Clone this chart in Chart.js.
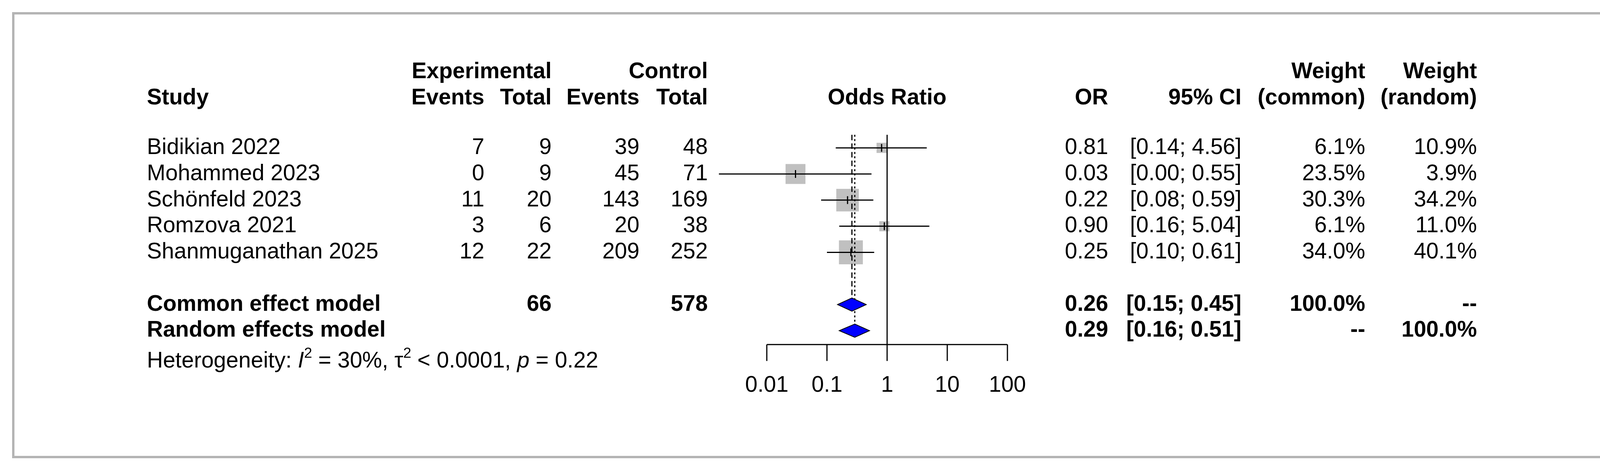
<!DOCTYPE html>
<html>
<head>
<meta charset="utf-8">
<script src="https://cdn.jsdelivr.net/npm/chart.js@4"></script>
<style>
  body { margin: 0; background: #fff; }
  #wrap { position: relative; width: 4139px; height: 1197px; }
  #frame { position: absolute; left: 31px; top: 31px; width: 4076px; height: 1129px; border: 6px solid #b4b4b4; }
</style>
</head>
<body>
<div id="wrap">
  <div id="frame"></div>
  <canvas id="forest" width="4139" height="1197" style="position:absolute;left:0;top:0"></canvas>
</div>
<script>
// DATA
const studies = ['Bidikian 2022', 'Mohammed 2023', 'Schönfeld 2023', 'Romzova 2021', 'Shanmuganathan 2025'];
const expEvents = [7, 0, 11, 3, 12];
const expTotal = [9, 9, 20, 6, 22];
const ctrlEvents = [39, 45, 143, 20, 209];
const ctrlTotal = [48, 71, 169, 38, 252];
const oddsRatio = [0.81, 0.03, 0.22, 0.90, 0.25];
const ciLow = [0.14, 0.0016, 0.08, 0.16, 0.10];
const ciHigh = [4.56, 0.55, 0.59, 5.04, 0.61];
const weightCommon = [6.1, 23.5, 30.3, 6.1, 34.0];
const weightRandom = [10.9, 3.9, 34.2, 11.0, 40.1];

const models = ['Common effect model', 'Random effects model'];
const modelOR = [0.26, 0.29];
const modelLow = [0.15, 0.16];
const modelHigh = [0.45, 0.51];
const modelWCommon = ['100.0%', '--'];
const modelWRandom = ['--', '100.0%'];
const modelExpTotal = [66, null];
const modelCtrlTotal = [578, null];

const xTicks = [0.01, 0.1, 1, 10, 100];

// row positions (row index units)
const studyRows = [1, 2, 3, 4, 5];
const modelRows = [7, 8];

const FONT = '"Liberation Sans", Arial, sans-serif';
const FS = 57;

const f2 = v => v.toFixed(2);
const ciText = (lo, hi) => '[' + f2(lo) + '; ' + f2(hi) + ']';

const forestPlugin = {
  id: 'forest',
  afterDatasetsDraw(chart) {
    const ctx = chart.ctx;
    const x = chart.scales.x, y = chart.scales.y;
    ctx.save();
    ctx.strokeStyle = '#000';
    ctx.lineWidth = 3;

    // line of no effect
    ctx.beginPath();
    ctx.moveTo(x.getPixelForValue(1), y.getPixelForValue(0.5));
    ctx.lineTo(x.getPixelForValue(1), y.getPixelForValue(8.53));
    ctx.stroke();

    // common (dashed) and random (dotted) estimate lines
    ctx.setLineDash([14, 8]);
    ctx.beginPath();
    ctx.moveTo(x.getPixelForValue(modelOR[0]), y.getPixelForValue(0.5));
    ctx.lineTo(x.getPixelForValue(modelOR[0]), y.getPixelForValue(modelRows[0] - 0.2));
    ctx.stroke();
    ctx.setLineDash([5, 6]);
    ctx.beginPath();
    ctx.moveTo(x.getPixelForValue(modelOR[1]), y.getPixelForValue(0.5));
    ctx.lineTo(x.getPixelForValue(modelOR[1]), y.getPixelForValue(modelRows[1] - 0.2));
    ctx.stroke();
    ctx.setLineDash([]);

    // confidence intervals and estimate ticks
    studies.forEach((s, i) => {
      const py = y.getPixelForValue(studyRows[i]);
      ctx.beginPath();
      ctx.moveTo(x.getPixelForValue(ciLow[i]), py);
      ctx.lineTo(x.getPixelForValue(ciHigh[i]), py);
      ctx.stroke();
      const px = x.getPixelForValue(oddsRatio[i]);
      ctx.beginPath();
      ctx.moveTo(px, py - 10);
      ctx.lineTo(px, py + 10);
      ctx.stroke();
    });

    // diamonds
    models.forEach((m, i) => {
      const py = y.getPixelForValue(modelRows[i]);
      ctx.beginPath();
      ctx.moveTo(x.getPixelForValue(modelLow[i]), py);
      ctx.lineTo(x.getPixelForValue(modelOR[i]), py - 17);
      ctx.lineTo(x.getPixelForValue(modelHigh[i]), py);
      ctx.lineTo(x.getPixelForValue(modelOR[i]), py + 17);
      ctx.closePath();
      ctx.fillStyle = '#0000ff';
      ctx.fill();
      ctx.lineWidth = 2;
      ctx.stroke();
      ctx.lineWidth = 3;
    });

    // x axis
    const ay = y.getPixelForValue(8.53);
    ctx.beginPath();
    ctx.moveTo(x.getPixelForValue(xTicks[0]), ay);
    ctx.lineTo(x.getPixelForValue(xTicks[xTicks.length - 1]), ay);
    xTicks.forEach(t => {
      ctx.moveTo(x.getPixelForValue(t), ay);
      ctx.lineTo(x.getPixelForValue(t), ay + 42);
    });
    ctx.stroke();
    ctx.fillStyle = '#000';
    ctx.font = FS + 'px ' + FONT;
    ctx.textAlign = 'center';
    ctx.textBaseline = 'middle';
    xTicks.forEach(t => ctx.fillText(String(t), x.getPixelForValue(t), y.getPixelForValue(10.1)));

    // text columns
    const bold = 'bold ' + FS + 'px ' + FONT;
    const norm = FS + 'px ' + FONT;
    const txt = (s, px, row, align, font) => {
      ctx.font = font; ctx.textAlign = align;
      ctx.fillText(s, px, y.getPixelForValue(row));
    };
    const colStudy = 376, colEE = 1240, colET = 1412, colCE = 1637, colCT = 1812;
    const colOR = 2837, colCI = 3178, colWC = 3495, colWR = 3781;
    const h1 = -1.9, h2 = -0.9;
    txt('Experimental', colET, h1, 'right', bold);
    txt('Control', colCT, h1, 'right', bold);
    txt('Weight', colWC, h1, 'right', bold);
    txt('Weight', colWR, h1, 'right', bold);
    txt('Study', colStudy, h2, 'left', bold);
    txt('Events', colEE, h2, 'right', bold);
    txt('Total', colET, h2, 'right', bold);
    txt('Events', colCE, h2, 'right', bold);
    txt('Total', colCT, h2, 'right', bold);
    txt('Odds Ratio', x.getPixelForValue(1), h2, 'center', bold);
    txt('OR', colOR, h2, 'right', bold);
    txt('95% CI', colCI, h2, 'right', bold);
    txt('(common)', colWC, h2, 'right', bold);
    txt('(random)', colWR, h2, 'right', bold);

    studies.forEach((s, i) => {
      const r = studyRows[i];
      txt(s, colStudy, r, 'left', norm);
      txt(String(expEvents[i]), colEE, r, 'right', norm);
      txt(String(expTotal[i]), colET, r, 'right', norm);
      txt(String(ctrlEvents[i]), colCE, r, 'right', norm);
      txt(String(ctrlTotal[i]), colCT, r, 'right', norm);
      txt(f2(oddsRatio[i]), colOR, r, 'right', norm);
      txt(ciText(ciLow[i], ciHigh[i]), colCI, r, 'right', norm);
      txt(weightCommon[i].toFixed(1) + '%', colWC, r, 'right', norm);
      txt(weightRandom[i].toFixed(1) + '%', colWR, r, 'right', norm);
    });
    models.forEach((m, i) => {
      const r = modelRows[i];
      txt(m, colStudy, r, 'left', bold);
      if (modelExpTotal[i] !== null) txt(String(modelExpTotal[i]), colET, r, 'right', bold);
      if (modelCtrlTotal[i] !== null) txt(String(modelCtrlTotal[i]), colCT, r, 'right', bold);
      txt(f2(modelOR[i]), colOR, r, 'right', bold);
      txt(ciText(modelLow[i], modelHigh[i]), colCI, r, 'right', bold);
      txt(modelWCommon[i], colWC, r, 'right', bold);
      txt(modelWRandom[i], colWR, r, 'right', bold);
    });

    // heterogeneity line with italics and superscripts
    const hy = y.getPixelForValue(9.18);
    const sup = Math.round(FS * 0.65) + 'px ' + FONT;
    const parts = [
      ['Heterogeneity: ', norm, 0], ['I', 'italic ' + norm, 0], ['2', sup, -20],
      [' = 30%, ', norm, 0], ['\u03C4', norm, 0], ['2', sup, -20],
      [' < 0.0001, ', norm, 0], ['p', 'italic ' + norm, 0], [' = 0.22', norm, 0]
    ];
    let hx = colStudy;
    ctx.textAlign = 'left';
    parts.forEach(([s, font, dy]) => {
      ctx.font = font;
      ctx.fillText(s, hx, hy + dy);
      hx += ctx.measureText(s).width;
    });
    ctx.restore();
  }
};

new Chart(document.getElementById('forest'), {
  type: 'scatter',
  data: {
    datasets: [{
      data: studies.map((s, i) => ({ x: oddsRatio[i], y: studyRows[i] })),
      pointStyle: 'rect',
      pointRadius: weightCommon.map(w => 10.5 * Math.sqrt(w) / Math.SQRT2),
      backgroundColor: '#c0c0c0',
      borderWidth: 0,
      clip: false
    }]
  },
  options: {
    responsive: false,
    animation: false,
    devicePixelRatio: 1,
    layout: { padding: { left: 1809, right: 1560, top: 0, bottom: 0 } },
    plugins: { legend: { display: false }, tooltip: { enabled: false } },
    scales: {
      x: { type: 'logarithmic', min: 0.001, max: 100, display: false },
      y: { type: 'linear', min: -4.014, max: 12.61, reverse: true, display: false }
    }
  },
  plugins: [forestPlugin]
});
</script>
</body>
</html>
